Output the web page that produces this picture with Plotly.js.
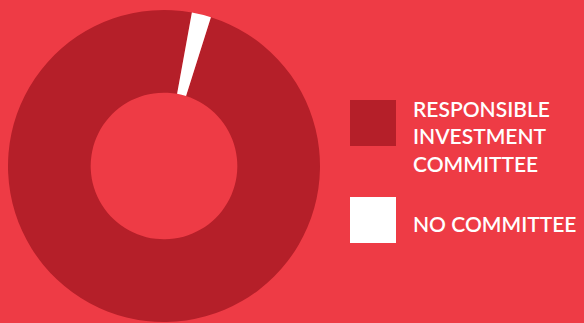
<!DOCTYPE html>
<html>
<head>
<meta charset="utf-8">
<script src="https://cdn.plot.ly/plotly-3.0.1.min.js"></script>
<style>html,body{margin:0;padding:0;background:#EE3B45;}</style>
</head>
<body>
<div id="chart" style="width:584px;height:323px;"></div>
<script>
const labels = ["RESPONSIBLE<br>INVESTMENT<br>COMMITTEE", "NO COMMITTEE"];
const values = [98, 2];
const colors = ["#B51F29", "#FFFFFF"];

const W = 584, H = 323;
const px = x => x / W;
const py = y => 1 - y / H;

const shapes = [];
const annotations = [];
const legendY = [123, 220];
labels.forEach((lab, i) => {
  const cy = legendY[i];
  shapes.push({type: "rect", xref: "paper", yref: "paper",
    x0: px(350), x1: px(396), y0: py(cy - 23), y1: py(cy + 23),
    fillcolor: colors[i], line: {width: 0}});
  annotations.push({xref: "paper", yref: "paper", x: px(411), y: py(i === 0 ? 136 : 223),
    xanchor: "left", yanchor: "middle", align: "left", showarrow: false,
    text: lab, font: {family: "Lato", size: 21, color: "#FFFFFF", weight: 600}});
});

const data = [{
  type: "pie",
  labels: labels,
  values: values,
  marker: {colors: colors, line: {width: 0}},
  hole: 0.47,
  sort: false,
  direction: "clockwise",
  rotation: 17.5,
  textinfo: "none",
  hoverinfo: "none",
  domain: {x: [px(8), px(320)], y: [py(322), py(10)]}
}];

const layout = {
  width: W, height: H,
  margin: {l: 0, r: 0, t: 0, b: 0},
  paper_bgcolor: "#EE3B45",
  plot_bgcolor: "#EE3B45",
  showlegend: false,
  shapes: shapes,
  annotations: annotations
};

Plotly.newPlot("chart", data, layout, {staticPlot: true});
</script>
</body>
</html>
